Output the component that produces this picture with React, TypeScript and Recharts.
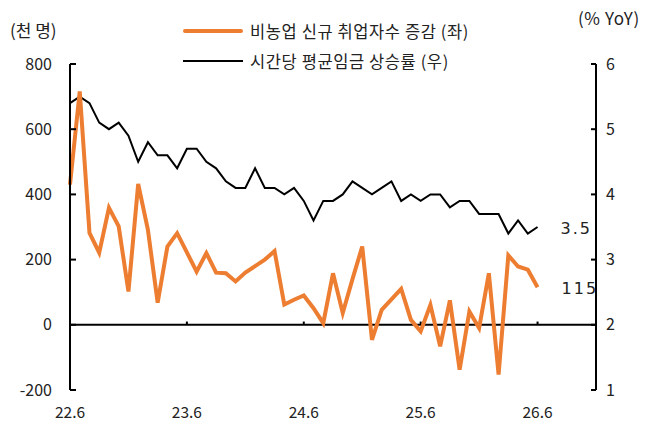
import React from 'react';
import { ComposedChart, Line, XAxis, YAxis, ReferenceLine, LabelList } from 'recharts';

const tickLabels = ['22.6', '23.6', '24.6', '25.6', '26.6'];
const tickPositions = [0, 12, 24, 36, 48];

// 비농업 신규 취업자수 증감 (천 명), monthly from 22.6 to 26.6
const payrolls = [
  430, 716, 282, 221, 359, 302, 102, 432, 291, 68, 240, 281, 222,
  163, 220, 160, 158, 133, 160, 180, 200, 226, 62, 77, 90,
  51, 5, 158, 36, 140, 240, -46, 46, 78, 110, 15, -20,
  61, -66, 75, -138, 41, -10, 158, -153, 213, 179, 169, 115,
];

// 시간당 평균임금 상승률 (% YoY)
const wages = [
  5.4, 5.5, 5.4, 5.1, 5.0, 5.1, 4.9, 4.5, 4.8, 4.6, 4.6, 4.4, 4.7,
  4.7, 4.5, 4.4, 4.2, 4.1, 4.1, 4.4, 4.1, 4.1, 4.0, 4.1, 3.9,
  3.6, 3.9, 3.9, 4.0, 4.2, 4.1, 4.0, 4.1, 4.2, 3.9, 4.0, 3.9,
  4.0, 4.0, 3.8, 3.9, 3.9, 3.7, 3.7, 3.7, 3.4, 3.6, 3.4, 3.5,
];

const leftTicks = [-200, 0, 200, 400, 600, 800];
const rightTicks = [1, 2, 3, 4, 5, 6];

const data = payrolls.map((p, i) => ({ idx: i, payrolls: p, wages: wages[i] }));
const lastIdx = data.length - 1;

const FONT = '"Noto Sans CJK KR", "Noto Sans", sans-serif';

const EndLabel = (dx: number, dy: number) => (props: any) => {
  const { x, y, value, index } = props;
  if (index !== lastIdx) return null;
  return (
    <text x={x + dx} y={y + dy} fill="#222" fontSize={16} fontFamily="DejaVu Sans, sans-serif" letterSpacing={2} dominantBaseline="central">
      {value}
    </text>
  );
};

export default function App() {
  return (
    <div style={{ position: 'absolute', left: 0, top: 0, width: 661, height: 433, background: '#fff', fontFamily: FONT }}>
      <div style={{ position: 'absolute', left: 10, top: 18, fontSize: 17, color: '#222', lineHeight: '24px' }}>(천 명)</div>
      <div style={{ position: 'absolute', left: 578, top: 6, fontSize: 17, color: '#222', lineHeight: '24px', letterSpacing: 0.6 }}>(% YoY)</div>
      <div style={{ position: 'absolute', left: 183, top: 19, display: 'flex', alignItems: 'center' }}>
        <div style={{ width: 60, height: 4, background: '#ED7D31', borderRadius: 2 }} />
        <span style={{ marginLeft: 7, fontSize: 16.5, letterSpacing: 0.6, color: '#222', lineHeight: '24px' }}>비농업 신규 취업자수 증감 (좌)</span>
      </div>
      <div style={{ position: 'absolute', left: 183, top: 49, display: 'flex', alignItems: 'center' }}>
        <div style={{ width: 60, height: 2, background: '#000' }} />
        <span style={{ marginLeft: 7, fontSize: 16.5, letterSpacing: 0.6, color: '#222', lineHeight: '24px' }}>시간당 평균임금 상승률 (우)</span>
      </div>
      <div style={{ position: 'absolute', left: 0, top: 0 }}>
        <ComposedChart width={661} height={433} data={data} margin={{ top: 64, right: 0, bottom: 13, left: 0 }}>
          <XAxis
            dataKey="idx"
            type="number"
            domain={[0, 54]}
            ticks={tickPositions}
            tickFormatter={(v: number) => tickLabels[tickPositions.indexOf(v)] ?? ''}
            axisLine={false}
            tickLine={false}
            tickSize={0}
            tickMargin={17}
            height={30}
            tick={{ fill: '#222', fontSize: 15.5, fontFamily: FONT }}
            interval={0}
          />
          <YAxis
            yAxisId="left"
            orientation="left"
            domain={[-200, 800]}
            ticks={leftTicks}
            width={70}
            axisLine={{ stroke: '#000', strokeWidth: 2 }}
            tickLine={{ stroke: '#000', strokeWidth: 2 }}
            tickSize={-6}
            tickMargin={24}
            tick={{ fill: '#222', fontSize: 16, fontFamily: FONT }}
            interval={0}
          />
          <YAxis
            yAxisId="right"
            orientation="right"
            domain={[1, 6]}
            ticks={rightTicks}
            width={65}
            axisLine={{ stroke: '#000', strokeWidth: 2 }}
            tickLine={{ stroke: '#000', strokeWidth: 2 }}
            tickSize={-5}
            tickMargin={15}
            tick={{ fill: '#222', fontSize: 16, fontFamily: FONT }}
            interval={0}
          />
          <ReferenceLine yAxisId="left" y={0} stroke="#000" strokeWidth={2} />
          {tickPositions.slice(1).map((t) => (
            <ReferenceLine
              key={t}
              yAxisId="left"
              segment={[{ x: t, y: 0 }, { x: t, y: 10 }]}
              stroke="#000"
              strokeWidth={2}
            />
          ))}
          <Line
            yAxisId="right"
            type="linear"
            dataKey="wages"
            stroke="#000"
            strokeWidth={2}
            dot={false}
            isAnimationActive={false}
          >
            <LabelList dataKey="wages" content={EndLabel(23, 1) as any} />
          </Line>
          <Line
            yAxisId="left"
            type="linear"
            dataKey="payrolls"
            stroke="#ED7D31"
            strokeWidth={4}
            dot={false}
            isAnimationActive={false}
          >
            <LabelList dataKey="payrolls" content={EndLabel(24, 1) as any} />
          </Line>
        </ComposedChart>
      </div>
    </div>
  );
}
